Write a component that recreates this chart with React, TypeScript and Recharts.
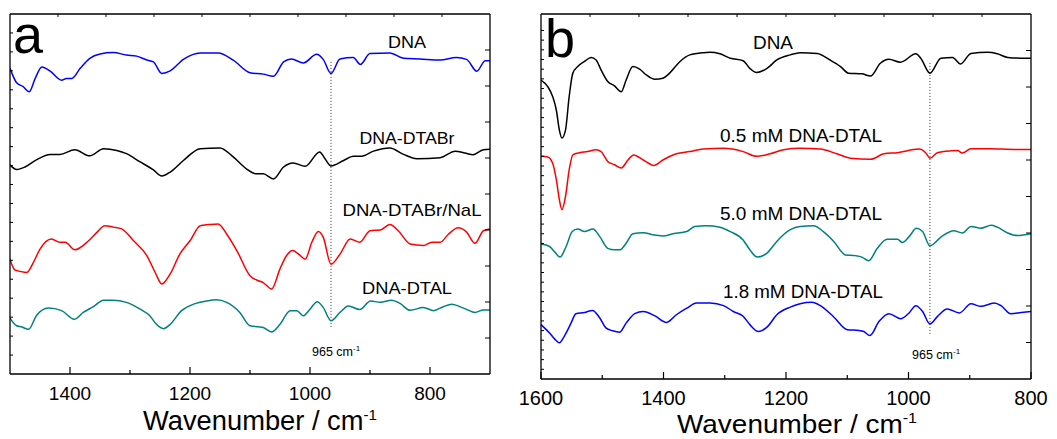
import { LineChart, Line, XAxis, YAxis, ReferenceLine } from "recharts";

type Pt = [number, number];

// panel a: wavenumber (cm-1), transmittance (a.u., offset)
const aDna: Pt[] = [
  [1500, 84.9], [1489, 80.9], [1478, 79.8], [1468, 78.4], [1458, 82.1], [1447, 85.3], [1433, 84.1], [1414, 81.6],
  [1406, 82.1], [1397, 82.1], [1383, 84.9], [1367, 87.7], [1350, 88.9], [1328, 89.3], [1306, 88.6], [1289, 88.3],
  [1272, 87.2], [1261, 86.7], [1247, 83.5], [1233, 84.2], [1211, 87.4], [1183, 89.2], [1153, 89.2], [1128, 87.2],
  [1100, 83.7], [1078, 83.3], [1061, 82.7], [1044, 86.7], [1031, 87.5], [1011, 86.4], [989, 88.8], [978, 87.4],
  [965, 83.5], [950, 87.5], [928, 87.9], [916, 86.0], [900, 89.0], [867, 89.2], [844, 87.7], [817, 87.5],
  [783, 87.2], [756, 87.9], [739, 87.4], [722, 84.1], [708, 87.0], [700, 87.0],
];
const aDtabr: Pt[] = [
  [1500, 58.1], [1489, 56.8], [1475, 57.5], [1456, 59.5], [1433, 61.0], [1417, 61.0], [1392, 62.3], [1367, 60.6],
  [1344, 62.6], [1322, 62.1], [1306, 61.2], [1283, 58.9], [1261, 56.7], [1247, 55.0], [1233, 56.1], [1211, 59.3],
  [1183, 62.6], [1150, 62.8], [1128, 60.3], [1106, 57.0], [1089, 55.6], [1078, 55.6], [1061, 54.2], [1044, 57.5],
  [1028, 58.6], [1008, 57.7], [984, 61.7], [975, 59.8], [965, 57.8], [944, 59.3], [928, 60.5], [914, 60.5],
  [894, 61.9], [867, 62.8], [844, 61.0], [822, 59.8], [783, 60.1], [758, 61.9], [742, 61.4], [728, 60.9],
  [711, 62.3], [700, 62.4],
];
const aDtabrNal: Pt[] = [
  [1500, 31.9], [1492, 28.9], [1483, 28.5], [1472, 28.2], [1461, 31.0], [1450, 34.7], [1431, 37.5], [1417, 36.6],
  [1408, 36.6], [1392, 34.5], [1369, 37.0], [1356, 39.2], [1342, 41.2], [1328, 40.8], [1314, 40.3], [1294, 37.0],
  [1272, 32.9], [1258, 28.2], [1247, 25.0], [1233, 27.8], [1217, 33.3], [1200, 37.0], [1183, 41.2], [1169, 41.5],
  [1153, 41.7], [1139, 38.9], [1122, 34.3], [1100, 27.3], [1086, 25.9], [1078, 25.4], [1064, 23.6], [1050, 29.2],
  [1039, 32.9], [1029, 34.3], [1019, 33.3], [1008, 31.9], [997, 36.6], [986, 39.6], [978, 38.0], [965, 30.5],
  [950, 33.3], [933, 37.5], [917, 36.6], [900, 39.8], [883, 40.0], [867, 41.5], [853, 39.8], [833, 36.1],
  [811, 35.7], [797, 36.6], [783, 36.6], [769, 38.9], [753, 40.6], [739, 39.4], [725, 36.3], [711, 39.8],
  [700, 40.3],
];
const aDtal: Pt[] = [
  [1500, 15.5], [1489, 13.4], [1481, 13.1], [1469, 12.4], [1456, 16.2], [1436, 18.3], [1414, 17.6], [1393, 15.2],
  [1378, 17.1], [1361, 18.7], [1344, 20.5], [1328, 20.5], [1306, 19.9], [1283, 18.0], [1267, 16.2], [1256, 13.8],
  [1244, 12.6], [1233, 13.8], [1214, 17.6], [1194, 19.4], [1172, 20.3], [1156, 20.6], [1139, 19.9], [1117, 17.1],
  [1100, 13.4], [1086, 13.1], [1078, 12.9], [1064, 11.7], [1050, 13.8], [1033, 17.6], [1022, 17.6], [1011, 16.2],
  [1000, 18.0], [988, 20.1], [978, 18.5], [965, 14.8], [950, 17.1], [936, 18.9], [917, 17.9], [899, 20.3],
  [883, 19.9], [864, 20.5], [850, 19.6], [833, 17.7], [811, 18.5], [794, 17.6], [778, 18.7], [764, 19.4],
  [744, 18.3], [725, 17.1], [711, 17.8], [700, 17.8],
];

// panel b
const bDna: Pt[] = [
  [1600, 81.9], [1589, 80.1], [1581, 77.4], [1575, 73.7], [1570, 68.2], [1566, 66.0], [1560, 68.2], [1554, 77.4],
  [1548, 83.8], [1540, 85.6], [1529, 87.0], [1518, 88.1], [1510, 87.4], [1502, 84.7], [1491, 81.5], [1480, 80.3],
  [1469, 78.7], [1461, 81.9], [1450, 85.6], [1439, 84.9], [1428, 83.3], [1414, 82.1], [1401, 82.4], [1390, 83.8],
  [1373, 87.0], [1357, 88.8], [1335, 89.4], [1324, 89.5], [1308, 89.1], [1291, 87.9], [1270, 87.2], [1259, 85.1],
  [1248, 84.0], [1231, 85.1], [1215, 87.4], [1193, 88.8], [1177, 89.4], [1149, 89.2], [1128, 87.4], [1111, 85.6],
  [1098, 83.8], [1076, 83.6], [1062, 83.0], [1046, 86.5], [1032, 87.6], [1013, 86.8], [988, 89.1], [980, 87.9],
  [965, 83.8], [947, 87.9], [928, 88.1], [915, 86.3], [898, 89.2], [871, 89.5], [855, 89.1], [838, 88.1],
  [816, 87.9], [800, 87.9],
];
const bDtal05: Pt[] = [
  [1600, 61.0], [1589, 60.8], [1581, 59.1], [1575, 54.6], [1570, 49.1], [1566, 46.4], [1560, 50.0], [1554, 57.3],
  [1548, 61.4], [1537, 62.0], [1524, 62.3], [1510, 62.8], [1502, 62.3], [1491, 59.6], [1480, 58.7], [1469, 57.8],
  [1458, 60.0], [1449, 61.4], [1433, 60.0], [1416, 58.5], [1401, 60.0], [1379, 61.7], [1357, 62.3], [1335, 63.0],
  [1302, 63.2], [1270, 62.3], [1248, 61.0], [1226, 61.7], [1204, 62.8], [1177, 63.2], [1144, 63.0], [1117, 61.7],
  [1095, 60.5], [1062, 60.2], [1040, 61.7], [1018, 62.0], [983, 63.0], [972, 62.0], [965, 60.5], [953, 62.0],
  [931, 62.5], [920, 62.6], [912, 61.9], [898, 63.1], [866, 63.1], [827, 62.9], [800, 62.9],
];
const bDtal50: Pt[] = [
  [1600, 37.0], [1586, 36.3], [1578, 34.9], [1569, 33.4], [1559, 36.3], [1549, 40.4], [1540, 41.1], [1529, 40.4],
  [1515, 41.1], [1504, 39.0], [1491, 35.8], [1480, 35.4], [1471, 35.4], [1461, 37.2], [1450, 39.8], [1433, 40.1],
  [1417, 39.5], [1401, 39.2], [1384, 39.8], [1362, 40.4], [1349, 41.8], [1330, 42.0], [1308, 41.6], [1291, 40.4],
  [1270, 38.1], [1259, 35.4], [1247, 33.4], [1231, 34.5], [1215, 37.7], [1193, 40.9], [1177, 41.8], [1155, 42.0],
  [1139, 40.4], [1122, 37.7], [1103, 34.0], [1087, 33.8], [1076, 33.4], [1065, 32.4], [1051, 35.8], [1035, 38.3],
  [1018, 38.3], [1010, 37.4], [999, 39.0], [987, 41.3], [977, 40.4], [965, 36.5], [947, 38.9], [926, 40.6],
  [912, 40.0], [898, 41.8], [882, 41.3], [865, 42.1], [855, 41.6], [838, 40.0], [822, 39.3], [800, 39.8],
];
const bDtal18: Pt[] = [
  [1600, 14.9], [1586, 12.6], [1578, 11.0], [1570, 9.9], [1562, 11.7], [1551, 15.3], [1543, 17.9], [1529, 18.2],
  [1516, 18.8], [1504, 16.7], [1494, 14.0], [1483, 13.2], [1472, 12.8], [1461, 15.3], [1447, 17.9], [1433, 18.5],
  [1414, 17.3], [1395, 15.5], [1379, 17.6], [1362, 19.4], [1346, 20.8], [1324, 20.8], [1302, 20.1], [1286, 18.5],
  [1270, 17.2], [1259, 14.9], [1245, 13.0], [1231, 14.2], [1215, 17.6], [1193, 19.7], [1177, 20.6], [1158, 21.0],
  [1144, 20.1], [1122, 17.0], [1100, 13.5], [1081, 13.3], [1073, 13.0], [1063, 11.9], [1048, 15.8], [1032, 17.9],
  [1013, 16.5], [999, 18.1], [988, 20.1], [977, 18.5], [965, 15.1], [953, 17.1], [937, 19.2], [917, 18.1],
  [898, 20.6], [882, 19.9], [860, 20.8], [849, 20.1], [833, 17.9], [816, 18.2], [800, 18.5],
];

const aNames = ["DNA", "DNA-DTABr", "DNA-DTABr/NaL", "DNA-DTAL"];
const bNames = ["DNA", "0.5 mM DNA-DTAL", "5.0 mM DNA-DTAL", "1.8 mM DNA-DTAL"];
const aTicks = [1400, 1300, 1200, 1100, 1000, 900, 800];
const bTicks = [1600, 1500, 1400, 1300, 1200, 1100, 1000, 900, 800];
const markWn = 965;

const FONT = "'Liberation Sans', Arial, sans-serif";
const rows = (pts: Pt[]) => pts.map(([w, t]) => ({ w, t }));

const even = (lo: number, hi: number, n: number) =>
  Array.from({ length: n - 1 }, (_, i) => lo + ((hi - lo) * (i + 1)) / n);

type SeriesCfg = { data: Pt[]; color: string; name: string; lx: number; ly: number; len: number };

type PanelProps = {
  width: number;
  margin: { top: number; right: number; bottom: number; left: number };
  axisH: number;
  domain: [number, number];
  ticks: number[];
  tickFont: number;
  tickDy: number;
  leftTicks: number[];
  series: SeriesCfg[];
  letter: string;
  letterX: number;
  letterY: number;
  labelFont: number;
  titleX: number;
  titleY: number;
  titleFont: number;
  titleLen: number;
  markTop: number;
  markBottom: number;
  noteX: number;
  noteY: number;
};

function Panel(p: PanelProps) {
  const frame = { stroke: "#000", strokeWidth: 1.3 };
  const bottomTick = (t: any) => {
    const major = t.payload.value % 200 === 0;
    return (
      <g>
        <line x1={t.x} x2={t.x} y1={t.y} y2={t.y - (major ? 7 : 4)} stroke="#000" strokeWidth={1.2} />
        {major && (
          <text x={t.x} y={t.y + p.tickDy} textAnchor="middle" fontSize={p.tickFont} fontFamily={FONT} fill="#000">
            {t.payload.value}
          </text>
        )}
      </g>
    );
  };
  const topTick = (t: any) => <line x1={t.x} x2={t.x} y1={t.y} y2={t.y + 3} stroke="#000" strokeWidth={1} />;
  const leftTick = (t: any) => <line x1={t.x} x2={t.x + 3} y1={t.y} y2={t.y} stroke="#000" strokeWidth={1} />;
  const rightTick = (t: any) => <line x1={t.x} x2={t.x - 5} y1={t.y} y2={t.y} stroke="#000" strokeWidth={1} />;
  const [lo, hi] = p.domain;

  return (
    <LineChart width={p.width} height={439} margin={p.margin}>
      <XAxis
        xAxisId="b" type="number" dataKey="w" domain={p.domain} reversed allowDataOverflow
        ticks={p.ticks} interval={0} height={p.axisH} tickLine={false} tickSize={0} tickMargin={0}
        axisLine={frame} tick={bottomTick}
      />
      <XAxis
        xAxisId="t" orientation="top" type="number" dataKey="w" domain={p.domain} reversed allowDataOverflow
        ticks={even(lo, hi, 10)} interval={0} height={1} tickLine={false} tickSize={0} tickMargin={0}
        axisLine={frame} tick={topTick}
      />
      <YAxis
        yAxisId="l" type="number" domain={[0, 100]} allowDataOverflow ticks={p.leftTicks} interval={0}
        width={1} tickLine={false} tickSize={0} tickMargin={0} axisLine={frame} tick={leftTick}
      />
      <YAxis
        yAxisId="r" orientation="right" type="number" domain={[0, 100]} allowDataOverflow ticks={even(0, 100, 10)}
        interval={0} width={1} tickLine={false} tickSize={0} tickMargin={0} axisLine={frame} tick={rightTick}
      />
      <ReferenceLine
        xAxisId="b" yAxisId="l"
        segment={[{ x: markWn, y: p.markTop }, { x: markWn, y: p.markBottom }]}
        stroke="#333" strokeWidth={1} strokeDasharray="1 2"
      />
      {p.series.map((s) => (
        <Line
          key={s.name} xAxisId="b" yAxisId="l" data={rows(s.data)} dataKey="t" name={s.name}
          type="monotone" stroke={s.color} strokeWidth={1.5} dot={false} isAnimationActive={false}
        />
      ))}
      {p.series.map((s) => (
        <text
          key={"lbl" + s.name} x={s.lx} y={s.ly} textAnchor="middle" fontSize={p.labelFont} fontFamily={FONT}
          fill="#000" textLength={s.len} lengthAdjust="spacingAndGlyphs"
        >
          {s.name}
        </text>
      ))}
      <text x={p.letterX} y={p.letterY} fontSize={54} fontFamily={FONT} fill="#000">
        {p.letter}
      </text>
      <text x={p.noteX} y={p.noteY} fontSize={12.5} fontFamily={FONT} fill="#000">
        {markWn} cm<tspan fontSize={8} dy={-5}>-1</tspan>
      </text>
      <text
        x={p.titleX} y={p.titleY} fontSize={p.titleFont} fontFamily={FONT} fill="#000"
        textLength={p.titleLen} lengthAdjust="spacingAndGlyphs"
      >
        Wavenumber / cm<tspan fontSize={15} dy={-10}>-1</tspan>
      </text>
    </LineChart>
  );
}

export default function App() {
  const aSeries: SeriesCfg[] = [
    { data: aDna, color: "#0000ff", name: aNames[0], lx: 407, ly: 48, len: 38 },
    { data: aDtabr, color: "#000000", name: aNames[1], lx: 407, ly: 144, len: 95 },
    { data: aDtabrNal, color: "#ff0000", name: aNames[2], lx: 412, ly: 216, len: 139 },
    { data: aDtal, color: "#008080", name: aNames[3], lx: 407, ly: 294, len: 90 },
  ];
  // panel b chart starts at page x = 510
  const bSeries: SeriesCfg[] = [
    { data: bDna, color: "#000000", name: bNames[0], lx: 263, ly: 49, len: 40 },
    { data: bDtal05, color: "#ff0000", name: bNames[1], lx: 291, ly: 142, len: 162 },
    { data: bDtal50, color: "#008080", name: bNames[2], lx: 291, ly: 220, len: 162 },
    { data: bDtal18, color: "#0000ff", name: bNames[3], lx: 293, ly: 297.5, len: 160 },
  ];

  return (
    <div style={{ position: "absolute", left: 0, top: 0, width: 1057, height: 439, background: "#fff", display: "flex" }}>
      <Panel
        width={510}
        margin={{ top: 13, right: 19, bottom: 0, left: 9 }}
        axisH={65}
        domain={[700, 1500]}
        ticks={aTicks}
        tickFont={19}
        tickDy={26}
        leftTicks={even(0, 100, 19)}
        series={aSeries}
        letter="a"
        letterX={13}
        letterY={53}
        labelFont={17}
        titleX={143}
        titleY={430}
        titleFont={27}
        titleLen={234}
        markTop={86.7}
        markBottom={12.8}
        noteX={312}
        noteY={356}
      />
      <Panel
        width={547}
        margin={{ top: 13, right: 25, bottom: 0, left: 30 }}
        axisH={60}
        domain={[800, 1600]}
        ticks={bTicks}
        tickFont={20}
        tickDy={26}
        leftTicks={even(0, 100, 37.7).filter((v) => v < 99)}
        series={bSeries}
        letter="b"
        letterX={35}
        letterY={57}
        labelFont={19}
        titleX={167}
        titleY={433}
        titleFont={26}
        titleLen={240}
        markTop={86.6}
        markBottom={12.1}
        noteX={402}
        noteY={359}
      />
    </div>
  );
}
